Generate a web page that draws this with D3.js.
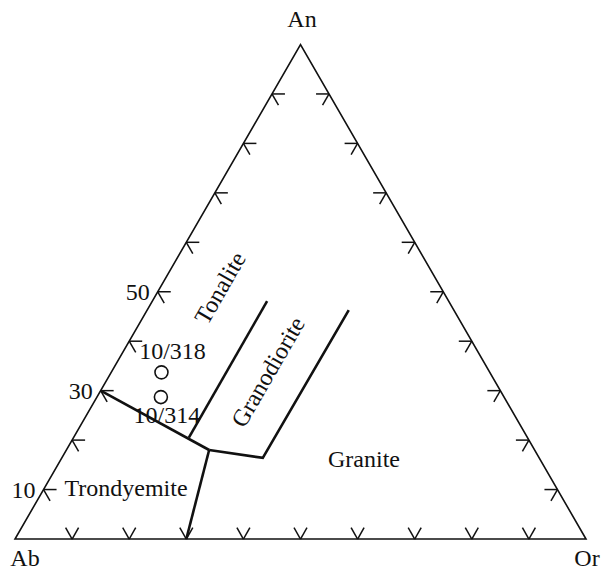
<!DOCTYPE html>
<html>
<head>
<meta charset="utf-8">
<script src="https://cdn.jsdelivr.net/npm/d3@7"></script>
<style>
  body { margin: 0; background: #fff; }
  text { font-family: "Liberation Serif", "Times New Roman", serif; fill: #111; }
</style>
</head>
<body>
<div id="chart-area"></div>
<script>
// data: ternary An-Ab-Or, values in percent (An, Or); Ab = 100 - An - Or
const vertexNames = ["Ab", "Or", "An"];
const tickValues = [10, 20, 30, 40, 50, 60, 70, 80, 90];
const labelledTicks = [10, 30, 50];

// field boundaries (each a polyline of [An, Or])
const boundaryTrondTonalite = [[30, 0], [18, 25]];
const boundaryTrondGranite = [[18, 25], [0, 30]];
const boundaryGranite = [[18, 25], [16.4, 35.2], [46.3, 35.3]];
const boundaryTonaliteGrano = [[20.5, 20.2], [48.1, 20.1]];

const sampleNames = ["10/318", "10/314"];
const sampleAn = [33.7, 28.7];
const sampleOr = [8.8, 11.2];

const fieldNames = ["Tonalite", "Granodiorite", "Granite", "Trondyemite"];

const WIDTH = 601, HEIGHT = 572;

const svg = d3.select("#chart-area").append("svg")
  .attr("width", WIDTH)
  .attr("height", HEIGHT);

// scales: x along Ab->Or, y by An
const x = d3.scaleLinear().domain([0, 100]).range([15, 586]);
const y = d3.scaleLinear().domain([0, 100]).range([539, 44.5]);
const pt = (an, or) => [x(or + an / 2), y(an)];

// triangle
const corners = [pt(0, 0), pt(0, 100), pt(100, 0)];
svg.append("path")
  .attr("d", d3.line()(corners) + "Z")
  .attr("fill", "none")
  .attr("stroke", "#111")
  .attr("stroke-width", 1.6);

// arrow ticks, pointing out of each edge
const ARM = 13;
const rad = Math.PI / 180;
function tick(p, angs) {
  return angs.map(a => [[p[0], p[1]], [p[0] + ARM * Math.cos(a * rad), p[1] + ARM * Math.sin(a * rad)]]);
}
let tickSegs = [];
tickValues.forEach(v => {
  tickSegs = tickSegs.concat(tick(pt(0, v), [-60, -120]));      // bottom edge
  tickSegs = tickSegs.concat(tick(pt(v, 0), [0, 60]));          // left edge
  tickSegs = tickSegs.concat(tick(pt(v, 100 - v), [180, 120])); // right edge
});
svg.append("g").selectAll("line").data(tickSegs).enter().append("line")
  .attr("x1", d => d[0][0]).attr("y1", d => d[0][1])
  .attr("x2", d => d[1][0]).attr("y2", d => d[1][1])
  .attr("stroke", "#111")
  .attr("stroke-width", 1.5);

// tick labels on left edge
svg.append("g").selectAll("text").data(labelledTicks).enter().append("text")
  .attr("x", d => pt(d, 0)[0] - 8)
  .attr("y", d => pt(d, 0)[1] + 8)
  .attr("text-anchor", "end")
  .attr("font-size", "24px")
  .text(d => d);

// boundaries
const boundaries = [boundaryTrondTonalite, boundaryTrondGranite, boundaryGranite, boundaryTonaliteGrano];
svg.append("g").selectAll("path").data(boundaries).enter().append("path")
  .attr("d", d => d3.line()(d.map(q => pt(q[0], q[1]))))
  .attr("fill", "none")
  .attr("stroke", "#111")
  .attr("stroke-width", 2.6)
  .attr("stroke-linejoin", "miter");

// vertex labels
const vertexPos = { Ab: [25, 566], Or: [587, 566], An: [302, 27] };
svg.append("g").selectAll("text").data(vertexNames).enter().append("text")
  .attr("x", d => vertexPos[d][0])
  .attr("y", d => vertexPos[d][1])
  .attr("text-anchor", "middle")
  .attr("font-size", "24px")
  .text(d => d);

// samples
const samples = sampleNames.map((n, i) => ({ name: n, an: sampleAn[i], or: sampleOr[i] }));
svg.append("g").selectAll("circle").data(samples).enter().append("circle")
  .attr("cx", d => pt(d.an, d.or)[0])
  .attr("cy", d => pt(d.an, d.or)[1])
  .attr("r", 6.5)
  .attr("fill", "none")
  .attr("stroke", "#111")
  .attr("stroke-width", 1.6);

svg.append("g").selectAll("text").data(samples).enter().append("text")
  .attr("x", (d, i) => pt(d.an, d.or)[0] + (i === 0 ? 11 : 6))
  .attr("y", (d, i) => pt(d.an, d.or)[1] + (i === 0 ? -13 : 26))
  .attr("text-anchor", "middle")
  .attr("font-size", "24px")
  .text(d => d.name);

// field names
const fieldPos = {
  Tonalite: [227, 292, -60],
  Granodiorite: [275, 376, -60],
  Granite: [364, 467, 0],
  Trondyemite: [126, 496, 0]
};
svg.append("g").selectAll("text").data(fieldNames).enter().append("text")
  .attr("text-anchor", "middle")
  .attr("font-size", "24px")
  .attr("transform", d => `translate(${fieldPos[d][0]}, ${fieldPos[d][1]}) rotate(${fieldPos[d][2]})`)
  .text(d => d);
</script>
</body>
</html>
